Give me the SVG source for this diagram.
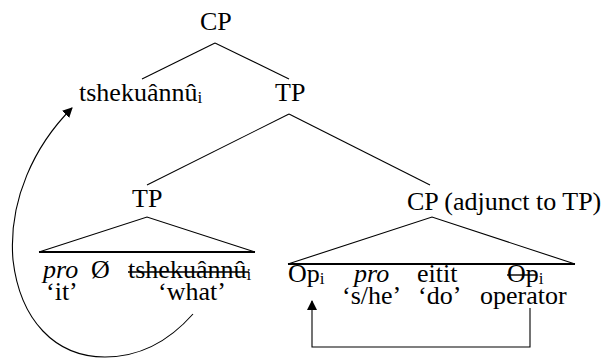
<svg xmlns="http://www.w3.org/2000/svg" width="607" height="358" viewBox="0 0 607 358" font-family="'Liberation Serif', 'Times New Roman', serif">
  <style>
    text { font-family: "Liberation Serif", "Times New Roman", serif; font-size: 26px; fill: #000; }
    .it { font-style: italic; }
    .sub { font-size: 17px; }
    .edge { stroke: #000; stroke-width: 1.1; fill: none; }
    .base { stroke: #000; stroke-width: 2.2; fill: none; }
    .strike { stroke: #000; stroke-width: 1.4; }
  </style>
  <defs>
    <marker id="head" viewBox="0 0 10 10" refX="9" refY="5" markerWidth="10" markerHeight="10" markerUnits="userSpaceOnUse" orient="auto">
      <path d="M0,0 L10,5 L0,10 Z" fill="#000"/>
    </marker>
  </defs>

  <!-- tree branches, triangles and movement arrows -->
  <g id="connectors">
    <line class="edge" x1="215" y1="43" x2="142" y2="79"/>
    <line class="edge" x1="215" y1="43" x2="289" y2="79"/>
    <line class="edge" x1="289" y1="114" x2="147" y2="185"/>
    <line class="edge" x1="289" y1="114" x2="430" y2="185"/>
    <!-- lower TP triangle -->
    <polyline class="edge" points="39,252 147,217 255,252"/>
    <line class="base" x1="39" y1="252" x2="255" y2="252"/>
    <!-- adjunct CP triangle -->
    <polyline class="edge" points="288,264 432,217 575,264"/>
    <line class="base" x1="288" y1="264" x2="575" y2="264"/>
    <!-- wh-movement arc -->
    <path class="edge" d="M193,314 C170,340 140,357 105,357 C55,357 20,320 13,260 C8,200 35,145 72,108" marker-end="url(#head)"/>
    <!-- operator movement -->
    <path class="edge" d="M530,308 V347 H312 V301" marker-end="url(#head)"/>
  </g>

  <g id="cp-root"><text x="200" y="30">CP</text></g>
  <g id="wh-phrase"><text x="79" y="101">tshekuânnû<tspan class="sub" dy="2">i</tspan></text></g>
  <g id="tp-top"><text x="275" y="101">TP</text></g>
  <g id="tp-lower"><text x="132" y="207">TP</text></g>
  <g id="cp-adjunct"><text x="407" y="210">CP (adjunct to TP)</text></g>

  <g id="tp-content">
    <text class="it" x="43" y="278">pro</text>
    <text x="91" y="278">Ø</text>
    <text x="128" y="278">tshekuânnû<tspan class="sub" dy="2">i</tspan></text>
    <line class="strike" x1="128" y1="272" x2="249" y2="272"/>
    <text x="46" y="300">‘it’</text>
    <text x="158" y="300">‘what’</text>
  </g>

  <g id="cp-content">
    <text x="288" y="282">Op<tspan class="sub" dy="2">i</tspan></text>
    <text class="it" x="354" y="282">pro</text>
    <text x="417" y="282">eitit</text>
    <text x="507" y="282">Op<tspan class="sub" dy="2">i</tspan></text>
    <line class="strike" x1="507" y1="275" x2="537" y2="275"/>
    <text x="342" y="304">‘s/he’</text>
    <text x="418" y="304">‘do’</text>
    <text x="480" y="304">operator</text>
  </g>
</svg>
